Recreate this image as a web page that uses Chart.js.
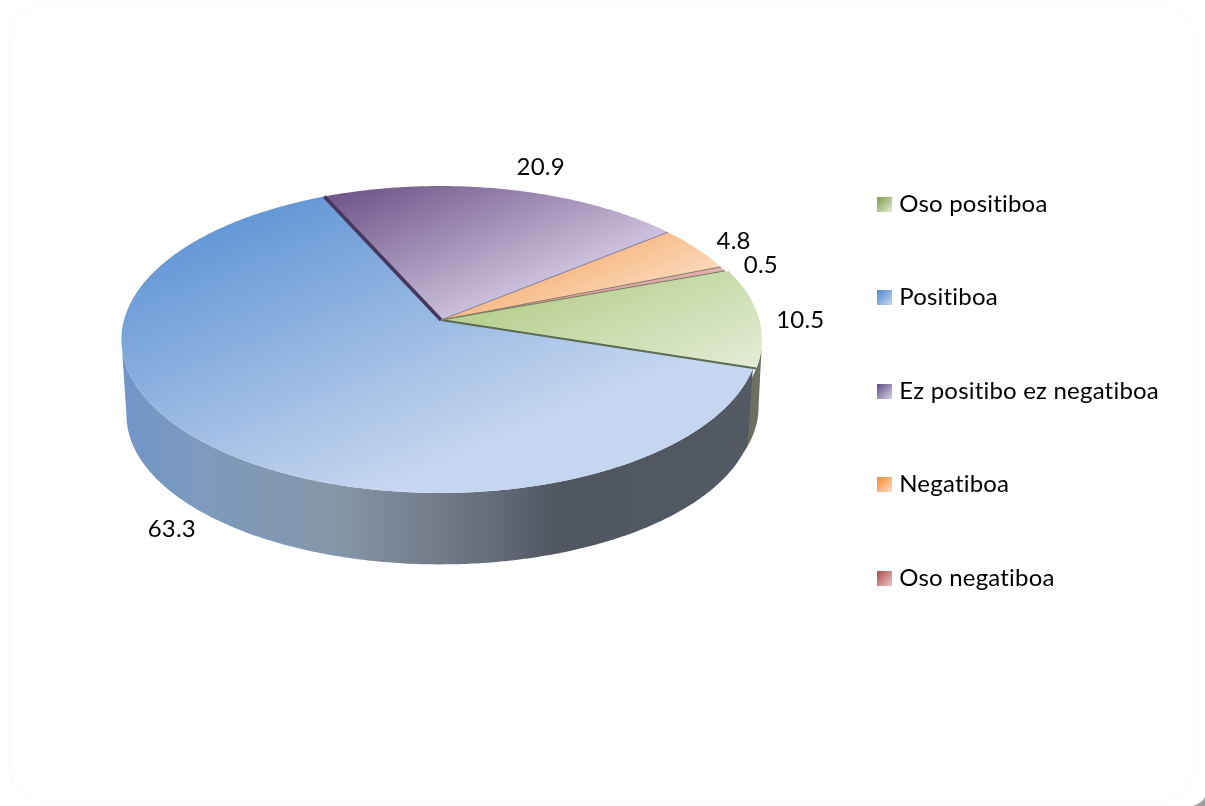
<!DOCTYPE html>
<html>
<head>
<meta charset="utf-8">
<title>Pie</title>
<script src="https://cdn.jsdelivr.net/npm/chart.js@4"></script>
<style>
  html, body { margin: 0; background: #fff; }
  canvas { display: block; }
</style>
</head>
<body>
<canvas id="pie" width="1205" height="806"></canvas>
<script>
const categories = ["Oso positiboa", "Positiboa", "Ez positibo ez negatiboa", "Negatiboa", "Oso negatiboa"];
const percents = [10.5, 63.3, 20.9, 4.8, 0.5];
const valueLabels = ["10.5", "63.3", "20.9", "4.8", "0.5"];

// look of each slice: top face stops, wall colour, edge line, legend swatch
const faceColors = [
  ["#b5ce8b", "#e2ebd3"],
  ["#6497d6", "#c5d6ee"],
  ["#6d5288", "#cabfda"],
  ["#f6ba86", "#fbd6b6"],
  ["#d59593", "#e2b0ae"],
];
const faceEnd = [1, 0.82, 1, 1, 1];
const edgeColors = ["#5a6b50", "#453760", "#857a96", "#8a7a6a", "#6f7a55"];
const edgeWidths = [2, 3.5, 1, 1, 1];
const swatchColors = [
  ["#7f9a48", "#e4ebd5"],
  ["#4f86cf", "#c8d9f0"],
  ["#5d4a85", "#d8d2e4"],
  ["#ef8a2e", "#fde0c8"],
  ["#a84a48", "#eec8c8"],
];
const wallStops = [[0, "#6f95c8"], [0.12, "#7d9abf"], [0.34, "#8596a8"], [0.48, "#747e8c"], [0.59, "#636a78"], [0.687, "#50565f"], [1, "#535a64"]];
const greenWall = "#6c705f";

// label offset from the rim point in the middle of each slice
const labelOffsets = [[45, 3], [-35, 85], [35, -22], [37, -7], [38, -4]];

// tilted disc: projected through k so the apex sits above the ellipse centre
const top3d = { cx: 440, cy: 320, a: 316, b: 151, k: 0.127 };
const bottom3d = { cx: 440, cy: 396, a: 311, b: 147, k: 0.127 };
const greenTop = { cx: 443.4, cy: 320, a: 316, b: 151, k: 0.127 };
const greenBottom = { cx: 445, cy: 388, a: 311, b: 147, k: 0.127 };
const FONT = "Lato";

function project(p, angle) {
  const u = Math.cos(angle), v = Math.sin(angle), w = 1 - p.k * v;
  return { x: p.cx + p.a * u / w, y: p.cy + p.b * v / w };
}

function rim(p, start, end) {
  const pts = [];
  const n = Math.max(2, Math.ceil((end - start) / 0.01));
  for (let i = 0; i <= n; i++) pts.push(project(p, start + (end - start) * i / n));
  return pts;
}

function faceGradient(ctx, pts, stops, stopEnd) {
  // gradient runs mostly downwards, slightly to the right
  const dx = 0.38, dy = 0.92;
  let min = Infinity, max = -Infinity;
  pts.forEach(function (q) {
    const t = q.x * dx + q.y * dy;
    if (t < min) min = t;
    if (t > max) max = t;
  });
  const g = ctx.createLinearGradient(dx * min, dy * min, dx * max, dy * max);
  g.addColorStop(0, stops[0]);
  g.addColorStop(stopEnd, stops[1]);
  if (stopEnd < 1) g.addColorStop(1, stops[1]);
  return g;
}

function drawWall(ctx, upperRing, lowerRing, start, end, fill) {
  // only the part between the two side extremes of the disc faces the viewer
  const side = Math.asin(upperRing.k);
  const a = Math.max(start, side), b = Math.min(end, Math.PI - side);
  if (b <= a) return;
  const upper = rim(upperRing, a, b), lower = rim(lowerRing, a, b).reverse();
  ctx.beginPath();
  upper.concat(lower).forEach(function (q, i) {
    if (i === 0) ctx.moveTo(q.x, q.y); else ctx.lineTo(q.x, q.y);
  });
  ctx.closePath();
  ctx.fillStyle = fill;
  ctx.fill();
}

const pie3d = {
  id: "pie3d",
  beforeDraw(chart) {
    const ctx = chart.ctx;
    ctx.letterSpacing = "0.2px";
    ctx.save();
    ctx.fillStyle = "#fff";
    ctx.fillRect(0, 0, chart.width, chart.height);
    // faint rounded panel, grey shows only in the lower right corner
    ctx.strokeStyle = "#fbfbfb";
    ctx.lineWidth = 1.5;
    ctx.beginPath();
    ctx.roundRect(9, 5, 1185, 796, 35);
    ctx.stroke();
    ctx.fillStyle = "#a0a0a0";
    ctx.beginPath();
    ctx.moveTo(chart.width, chart.height);
    ctx.lineTo(chart.width, chart.height - 9);
    ctx.quadraticCurveTo(chart.width - 3, chart.height - 3, chart.width - 12, chart.height);
    ctx.closePath();
    ctx.fill();
    ctx.restore();
  },
  beforeDatasetsDraw(chart) {
    const ctx = chart.ctx;
    const arcs = chart.getDatasetMeta(0).data;
    ctx.save();

    const wall = ctx.createLinearGradient(top3d.cx - 320, 0, top3d.cx + 320, 0);
    wallStops.forEach(function (s) { wall.addColorStop(s[0], s[1]); });
    // green runs on a little under the blue wall so no gap shows
    drawWall(ctx, greenTop, greenBottom, arcs[0].startAngle, arcs[0].endAngle + 0.12, greenWall);
    arcs.forEach(function (arc, i) {
      if (i > 0) drawWall(ctx, top3d, bottom3d, arc.startAngle, arc.endAngle, wall);
    });

    arcs.forEach(function (arc, i) {
      const ring = i === 0 ? greenTop : top3d;
      const pts = rim(ring, arc.startAngle, arc.endAngle);
      const apex = { x: top3d.cx + 1, y: top3d.cy };
      ctx.beginPath();
      ctx.moveTo(apex.x, apex.y);
      pts.forEach(function (q) { ctx.lineTo(q.x, q.y); });
      ctx.closePath();
      ctx.fillStyle = faceGradient(ctx, pts.concat([apex]), faceColors[i], faceEnd[i]);
      ctx.fill();
    });

    // thin dark cut lines, drawn at the end of each slice
    arcs.forEach(function (arc, i) {
      const q = project(i === 0 ? greenTop : top3d, arc.endAngle);
      ctx.beginPath();
      ctx.moveTo(top3d.cx + 1, top3d.cy);
      ctx.lineTo(q.x, q.y);
      ctx.strokeStyle = edgeColors[i];
      ctx.lineWidth = edgeWidths[i];
      ctx.stroke();
    });

    ctx.fillStyle = "#000";
    ctx.font = "24px " + FONT;
    ctx.textAlign = "center";
    ctx.textBaseline = "middle";
    arcs.forEach(function (arc, i) {
      const q = project(top3d, (arc.startAngle + arc.endAngle) / 2);
      ctx.fillText(valueLabels[i], q.x + labelOffsets[i][0], q.y + labelOffsets[i][1]);
    });
    ctx.restore();
    return false;
  },
};

function swatch(colors) {
  const c = document.createElement("canvas");
  c.width = 15;
  c.height = 15;
  const x = c.getContext("2d");
  const g = x.createLinearGradient(0, 0, 15, 15);
  g.addColorStop(0, colors[0]);
  g.addColorStop(1, colors[1]);
  x.fillStyle = g;
  x.fillRect(0, 0, 15, 15);
  return c;
}

new Chart(document.getElementById("pie"), {
  type: "pie",
  data: {
    labels: categories,
    datasets: [{
      data: percents,
      backgroundColor: faceColors.map(function (c) { return c[0]; }),
      borderWidth: 0,
    }],
  },
  options: {
    responsive: false,
    animation: false,
    rotation: 70.2,
    layout: { padding: { right: 40, bottom: 24 } },
    plugins: {
      tooltip: { enabled: false },
      legend: {
        position: "right",
        labels: {
          usePointStyle: true,
          pointStyleWidth: 5,
          padding: 69.5,
          color: "#000",
          font: { family: FONT, size: 24 },
          generateLabels(chart) {
            return categories.map(function (name, i) {
              return { text: name, pointStyle: swatch(swatchColors[i]), fontColor: "#000", lineWidth: 0, strokeStyle: "transparent", index: i, hidden: false };
            });
          },
        },
      },
    },
  },
  plugins: [pie3d],
});
</script>
</body>
</html>
